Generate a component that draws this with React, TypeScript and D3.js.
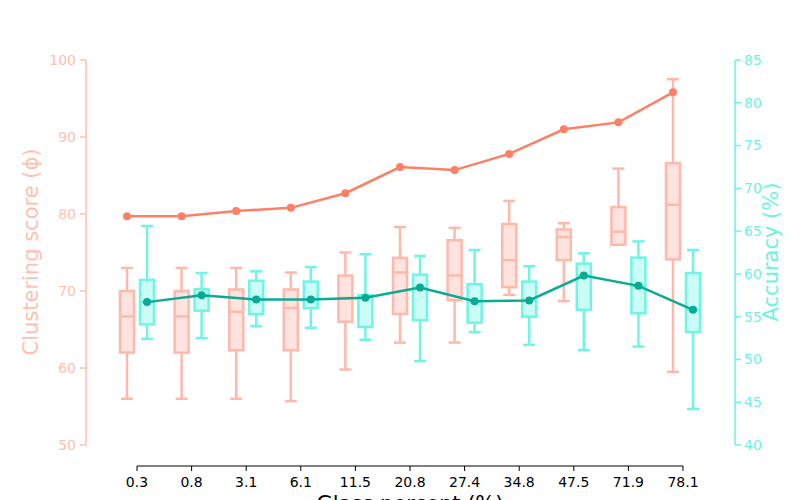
import * as d3 from 'd3';

const categories = ['0.3', '0.8', '3.1', '6.1', '11.5', '20.8', '27.4', '34.8', '47.5', '71.9', '78.1'];

// clustering score boxes: [whiskerLow, q1, median, q3, whiskerHigh]
const scoreBoxes = [
  [56, 62, 66.7, 70, 73],
  [56, 62, 66.7, 70, 73],
  [56, 62.3, 67.3, 70.2, 73],
  [55.7, 62.3, 67.8, 70.2, 72.4],
  [59.8, 66, 69.1, 72, 75],
  [63.3, 67, 72.4, 74.3, 78.3],
  [63.3, 68.8, 72, 76.6, 78.2],
  [69.5, 70.5, 74, 78.7, 81.7],
  [68.7, 74, 77, 78, 78.8],
  [76, 76, 77.7, 80.9, 85.9],
  [59.5, 74.1, 81.2, 86.6, 97.5],
];
const scoreLine = [79.7, 79.7, 80.4, 80.8, 82.7, 86.1, 85.7, 87.8, 91, 91.9, 95.8];

// accuracy boxes
const accBoxes = [
  [52.4, 54.1, 56.7, 59.3, 65.6],
  [52.5, 55.7, 57.5, 58.2, 60.1],
  [53.9, 55.3, 57, 59.2, 60.3],
  [53.7, 56, 57, 59.1, 60.8],
  [52.3, 53.8, 57.2, 57.5, 62.3],
  [49.8, 54.6, 58.4, 59.9, 62.1],
  [53.2, 54.3, 56.8, 58.8, 62.8],
  [51.7, 55, 56.9, 59.1, 60.9],
  [51.1, 55.8, 59.8, 61.2, 62.4],
  [51.5, 55.4, 58.6, 61.9, 63.8],
  [44.2, 53.2, 55.8, 60.1, 62.8],
];
const accLine = [56.7, 57.5, 57, 57, 57.2, 58.4, 56.8, 56.9, 59.8, 58.6, 55.8];

const scoreTicks = [50, 60, 70, 80, 90, 100];
const accTicks = [40, 45, 50, 55, 60, 65, 70, 75, 80, 85];

const C = {
  scoreAxis: '#ffbfb1',
  scoreStroke: '#ffb9ab',
  scoreFill: '#ffe3de',
  scoreLine: '#ff7f66',
  accAxis: '#6cf3e1',
  accStroke: '#6ff5e3',
  accFill: '#cbfcf5',
  accLine: '#0aab95',
};

const font = 'DejaVu Sans, sans-serif';

export default function App() {
  const W = 800, H = 500;
  const x = d3.scalePoint<string>().domain(categories).range([137, 683]);
  const yS = d3.scaleLinear().domain([50, 100]).range([445, 60]);
  const yA = d3.scaleLinear().domain([40, 85]).range([445, 60]);
  const off = 10, bw = 14, cap = 6;

  const box = (b: number[], cx: number, y: d3.ScaleLinear<number, number>, stroke: string, fill: string, key: string) => (
    <g key={key} stroke={stroke} strokeWidth={2.5} fill="none">
      <line x1={cx} x2={cx} y1={y(b[0])} y2={y(b[1])} />
      <line x1={cx} x2={cx} y1={y(b[3])} y2={y(b[4])} />
      <line x1={cx - cap} x2={cx + cap} y1={y(b[0])} y2={y(b[0])} />
      <line x1={cx - cap} x2={cx + cap} y1={y(b[4])} y2={y(b[4])} />
      <rect x={cx - bw / 2} width={bw} y={y(b[3])} height={y(b[1]) - y(b[3])} fill={fill} />
      <line x1={cx - bw / 2} x2={cx + bw / 2} y1={y(b[2])} y2={y(b[2])} />
    </g>
  );

  const sLine = d3.line<number>().x((_, i) => x(categories[i])! - off).y((d) => yS(d));
  const aLine = d3.line<number>().x((_, i) => x(categories[i])! + off).y((d) => yA(d));

  return (
    <svg width={W} height={H} style={{ position: 'absolute', left: 0, top: 0 }} fontFamily={font}>
      <rect width={W} height={H} fill="#fff" />
      {categories.map((c, i) => box(scoreBoxes[i], x(c)! - off, yS, C.scoreStroke, C.scoreFill, 's' + i))}
      {categories.map((c, i) => box(accBoxes[i], x(c)! + off, yA, C.accStroke, C.accFill, 'a' + i))}
      <path d={sLine(scoreLine)!} fill="none" stroke={C.scoreLine} strokeWidth={2.5} />
      {scoreLine.map((v, i) => <circle key={'sp' + i} cx={x(categories[i])! - off} cy={yS(v)} r={4} fill={C.scoreLine} />)}
      <path d={aLine(accLine)!} fill="none" stroke={C.accLine} strokeWidth={2.5} />
      {accLine.map((v, i) => <circle key={'ap' + i} cx={x(categories[i])! + off} cy={yA(v)} r={4} fill={C.accLine} />)}

      {/* left axis */}
      <line x1={86} x2={86} y1={60} y2={445} stroke={C.scoreAxis} strokeWidth={1.5} />
      {scoreTicks.map((t) => (
        <g key={'st' + t}>
          <line x1={80} x2={86} y1={yS(t)} y2={yS(t)} stroke={C.scoreAxis} strokeWidth={1.5} />
          <text x={76} y={yS(t)} dy="0.35em" textAnchor="end" fontSize={14} fill={C.scoreAxis}>{t}</text>
        </g>
      ))}
      <text transform={`translate(38,252) rotate(-90)`} textAnchor="middle" fontSize={21} fill={C.scoreAxis}>Clustering score (ϕ)</text>

      {/* right axis */}
      <line x1={735} x2={735} y1={60} y2={445} stroke={C.accAxis} strokeWidth={1.5} />
      {accTicks.map((t) => (
        <g key={'at' + t}>
          <line x1={735} x2={741} y1={yA(t)} y2={yA(t)} stroke={C.accAxis} strokeWidth={1.5} />
          <text x={744} y={yA(t)} dy="0.35em" textAnchor="start" fontSize={14} fill={C.accAxis}>{t}</text>
        </g>
      ))}
      <text transform={`translate(778,252) rotate(-90)`} textAnchor="middle" fontSize={21} fill={C.accAxis}>Accuracy (%)</text>

      {/* bottom axis */}
      <line x1={137} x2={683} y1={466} y2={466} stroke="#000" strokeWidth={1} />
      {categories.map((c) => (
        <g key={'xt' + c}>
          <line x1={x(c)} x2={x(c)} y1={466} y2={471} stroke="#000" />
          <text x={x(c)} y={487} textAnchor="middle" fontSize={14} fill="#000">{c}</text>
        </g>
      ))}
      <text x={410} y={511} textAnchor="middle" fontSize={21} fill="#000">Glass percent (%)</text>
    </svg>
  );
}
